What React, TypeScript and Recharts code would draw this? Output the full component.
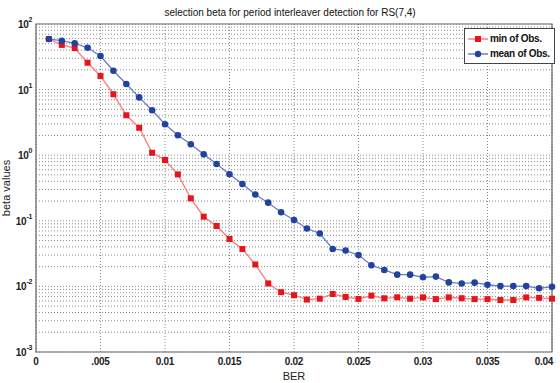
import React from 'react';
import { LineChart, Line, XAxis, YAxis, CartesianGrid, ReferenceLine, ReferenceArea } from 'recharts';

const berValues = [
  0.001, 0.002, 0.003, 0.004, 0.005, 0.006, 0.007, 0.008, 0.009, 0.01,
  0.011, 0.012, 0.013, 0.014, 0.015, 0.016, 0.017, 0.018, 0.019, 0.02,
  0.021, 0.022, 0.023, 0.024, 0.025, 0.026, 0.027, 0.028, 0.029, 0.03,
  0.031, 0.032, 0.033, 0.034, 0.035, 0.036, 0.037, 0.038, 0.039, 0.04,
];

const minObs = [
  59, 48, 43, 25.7, 16.1, 8.5, 4.06, 2.62, 1.09, 0.845,
  0.51, 0.22, 0.1155, 0.0833, 0.0528, 0.0372, 0.0216, 0.0111, 0.00816, 0.00734,
  0.0063, 0.0065, 0.00766, 0.0069, 0.00643, 0.00722, 0.00659, 0.00682, 0.0065, 0.0068,
  0.0064, 0.0068, 0.0066, 0.0064, 0.0064, 0.0062, 0.0062, 0.0068, 0.0067, 0.0065,
];

const meanObs = [
  59, 55.6, 50.8, 43.5, 32.5, 19.4, 12.2, 7.6, 4.84, 2.96,
  2.01, 1.47, 1.03, 0.734, 0.512, 0.364, 0.252, 0.189, 0.135, 0.103,
  0.0763, 0.064, 0.0372, 0.0352, 0.0301, 0.021, 0.0178, 0.0151, 0.0151, 0.0138,
  0.0141, 0.0115, 0.0111, 0.0114, 0.0106, 0.0101, 0.0101, 0.0101, 0.00935, 0.0099,
];

const xTickValues = [0, 0.005, 0.01, 0.015, 0.02, 0.025, 0.03, 0.035, 0.04];
const xTickLabels = ['0', '.005', '0.01', '0.015', '0.02', '0.025', '0.03', '0.035', '0.04'];
const yTickValues = [0.001, 0.01, 0.1, 1, 10, 100];
const yTickExponents = ['-3', '-2', '-1', '0', '1', '2'];
const minorMultipliers = [2, 3, 4, 5, 6, 7, 8, 9];

const gridValues: number[] = [];
yTickValues.forEach((d, i) => {
  gridValues.push(d);
  if (i < yTickValues.length - 1) minorMultipliers.forEach((m) => gridValues.push(d * m));
});

const data = berValues.map((b, i) => ({ ber: b, min: minObs[i], mean: meanObs[i] }));

const FONT = "'Liberation Sans Narrow', 'Liberation Sans', Arial, sans-serif";
const RED = '#e8141c';
const RED_LINE = '#ff7b7b';
const BLUE = '#2142a0';
const BLUE_LINE = '#6b7cc4';

const YTick = (props: any) => {
  const { x, y, payload } = props;
  const idx = yTickValues.indexOf(payload.value);
  return (
    <text x={x - 2} y={y + 4} textAnchor="end" fontFamily={FONT} fontWeight="bold" fontSize={10} fill="#222" letterSpacing={-0.3}>
      <tspan>10</tspan>
      <tspan dy={-6} fontSize={7}>{yTickExponents[idx]}</tspan>
    </text>
  );
};

const XTick = (props: any) => {
  const { x, y, payload } = props;
  const idx = xTickValues.indexOf(payload.value);
  const last = idx === xTickValues.length - 1;
  return (
    <text x={last ? x + 1 : x} y={y + 11} textAnchor={last ? 'end' : 'middle'} fontFamily={FONT} fontWeight="bold" fontSize={10} fill="#222" letterSpacing={-0.3}>
      {xTickLabels[idx]}
    </text>
  );
};

const RedDot = (props: any) => {
  const { cx, cy, index } = props;
  return <rect key={`r-${index}`} x={cx - 3} y={cy - 3} width={6} height={6} fill={RED} />;
};

const BlueDot = (props: any) => {
  const { cx, cy, index } = props;
  return <circle key={`b-${index}`} cx={cx} cy={cy} r={3.3} fill={BLUE} />;
};

const legendItems = [
  { label: 'min of Obs.', line: RED_LINE, mark: 'square', color: RED },
  { label: 'mean of Obs.', line: BLUE_LINE, mark: 'circle', color: BLUE },
];

const LegendBox = () => (
  <div
    style={{
      position: 'absolute',
      top: 28,
      left: 464,
      border: '1px solid #444',
      background: '#fff',
      padding: '2px 4px 2px 2px',
      fontFamily: FONT,
      fontWeight: 'bold',
      fontSize: 10,
      letterSpacing: -0.3,
      color: '#111',
      whiteSpace: 'nowrap',
      zIndex: 3,
    }}
  >
    {legendItems.map((it) => (
      <div key={it.label} style={{ display: 'flex', alignItems: 'center', height: 15 }}>
        <svg width={22} height={10} style={{ marginRight: 1 }}>
          <line x1={1} y1={5} x2={21} y2={5} stroke={it.line} strokeWidth={1.5} />
          {it.mark === 'square' ? (
            <rect x={8} y={2} width={6} height={6} fill={it.color} />
          ) : (
            <circle cx={11} cy={5} r={3.2} fill={it.color} />
          )}
        </svg>
        <span>{it.label}</span>
      </div>
    ))}
  </div>
);

export default function App() {
  return (
    <div style={{ position: 'relative', width: 560, height: 383, background: '#fff' }}>
      <style>{'body{margin:0;}'}</style>
      <div
        style={{
          position: 'absolute',
          top: 7,
          left: 0,
          width: 580,
          textAlign: 'center',
          fontFamily: FONT,
          fontSize: 10,
          color: '#111',
          lineHeight: '12px',
          zIndex: 2,
        }}
      >
        selection beta for period interleaver detection for RS(7,4)
      </div>
      <LineChart width={560} height={383} data={data} margin={{ top: 24, right: 8, bottom: 0, left: 0 }}>
        <CartesianGrid vertical horizontal={false} stroke="#8a8a8a" strokeDasharray="1 2" />
        {gridValues.map((v) => (
          <ReferenceLine key={`g-${v}`} y={v} stroke="#8a8a8a" strokeDasharray="1 2" />
        ))}
        <XAxis
          dataKey="ber"
          type="number"
          domain={[0, 0.04]}
          ticks={xTickValues}
          height={31}
          tickLine={false}
          tickSize={0}
          tickMargin={2}
          axisLine={false}
          tick={<XTick />}
          interval={0}
          label={{ value: 'BER', position: 'insideBottom', offset: 3, fontFamily: FONT, fontSize: 11, fill: '#222' }}
        />
        <YAxis
          type="number"
          scale="log"
          domain={[0.001, 100]}
          allowDataOverflow
          ticks={yTickValues}
          width={36}
          tickLine={false}
          tickSize={0}
          tickMargin={2}
          axisLine={false}
          tick={<YTick />}
          interval={0}
          label={{ value: 'beta values', angle: -90, position: 'insideLeft', offset: 6, fontFamily: FONT, fontSize: 11, fill: '#222', style: { textAnchor: 'middle' } }}
        />
        <ReferenceArea x1={0} x2={0.04} y1={0.001} y2={100} fill="none" stroke="#666" strokeWidth={1.2} />
        <Line
          dataKey="min"
          name="min of Obs."
          stroke={RED_LINE}
          strokeWidth={1.3}
          dot={<RedDot />}
          isAnimationActive={false}
        />
        <Line
          dataKey="mean"
          name="mean of Obs."
          stroke={BLUE_LINE}
          strokeWidth={1.3}
          dot={<BlueDot />}
          isAnimationActive={false}
        />
      </LineChart>
      <LegendBox />
    </div>
  );
}
